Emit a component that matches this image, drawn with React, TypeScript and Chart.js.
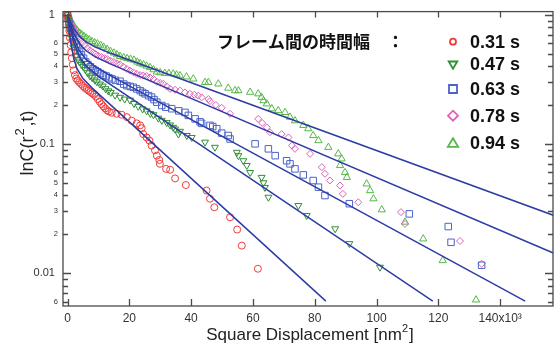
import React, { useEffect, useRef } from 'react';
import { Chart, registerables } from 'chart.js';

Chart.register(...registerables);

// ---- data (x in 10^3 nm^2, y = lnC value) ----
const seriesLabels = ['0.31 s', '0.47 s', '0.63 s', '0.78 s', '0.94 s'];

const pts031: [number, number][] = [
  [0, 1.0], [0.2, 0.93], [0.4, 0.84], [0.6, 0.75], [0.8, 0.66], [1.0, 0.58], [1.2, 0.51], [1.4, 0.46],
  [1.7, 0.41], [2.0, 0.37], [2.4, 0.34], [2.8, 0.32], [3.3, 0.31], [3.8, 0.3], [4.4, 0.29], [5.0, 0.28],
  [5.6, 0.272], [6.2, 0.265], [6.8, 0.258], [7.4, 0.252], [8.0, 0.246], [8.6, 0.24], [9.2, 0.232],
  [9.8, 0.222], [10.4, 0.212], [11.0, 0.203], [11.6, 0.195], [12.2, 0.188], [12.8, 0.182], [13.4, 0.178],
  [14.3, 0.174], [15.9, 0.171], [17.5, 0.168], [19.2, 0.161], [20.8, 0.151], [22.4, 0.144], [23.5, 0.139],
  [24.0, 0.132], [24.5, 0.119], [25.6, 0.112], [26.5, 0.106], [27.2, 0.097], [28.3, 0.089], [28.9, 0.081],
  [29.7, 0.075], [29.9, 0.07], [31.9, 0.064], [33.2, 0.063], [34.8, 0.054], [38.3, 0.048], [45.0, 0.0435],
  [46.1, 0.0376], [47.5, 0.0323], [52.6, 0.027], [54.9, 0.0217], [56.4, 0.0163], [61.6, 0.0108],
];

const pts047: [number, number][] = [
  [0, 1.0], [0.3, 0.9], [0.6, 0.81], [0.9, 0.73], [1.2, 0.67], [1.5, 0.62], [1.9, 0.56], [2.3, 0.52],
  [2.8, 0.48], [3.3, 0.45], [3.9, 0.43], [4.5, 0.41], [5.1, 0.395], [5.8, 0.375], [6.5, 0.355], [7.3, 0.335],
  [8.0, 0.325], [8.8, 0.312], [9.5, 0.302], [10.5, 0.29], [11.4, 0.28], [12.3, 0.267], [13.2, 0.257],
  [14.0, 0.25], [15.4, 0.238], [17.0, 0.229], [18.5, 0.222], [20.2, 0.218], [21.5, 0.205], [22.9, 0.195],
  [24.3, 0.186], [25.6, 0.18], [26.8, 0.172], [27.8, 0.168], [29.4, 0.158], [30.5, 0.152], [32.1, 0.146],
  [33.2, 0.14], [34.2, 0.134], [34.8, 0.13], [35.9, 0.119], [36.4, 0.125], [38.6, 0.116], [40.2, 0.112],
  [44.5, 0.103], [47.7, 0.094], [54.8, 0.086], [55.3, 0.081], [56.9, 0.074], [58.0, 0.068], [59.1, 0.06],
  [62.8, 0.055], [63.4, 0.05], [63.9, 0.046], [65.0, 0.0386], [74.7, 0.0333], [77.4, 0.0279],
  [86.6, 0.022], [91.2, 0.0169], [101.1, 0.0111],
];

const pts063: [number, number][] = [
  [0, 1.0], [0.3, 0.93], [0.6, 0.86], [1.0, 0.78], [1.4, 0.72], [1.8, 0.67], [2.3, 0.62], [2.8, 0.59],
  [3.3, 0.56], [3.9, 0.52], [4.5, 0.49], [5.2, 0.46], [5.9, 0.43], [6.6, 0.41], [7.4, 0.395], [8.2, 0.38],
  [9.0, 0.37], [9.8, 0.36], [10.7, 0.35], [11.6, 0.34], [12.5, 0.335], [13.4, 0.325], [14.4, 0.318],
  [15.5, 0.31], [17.0, 0.305], [18.2, 0.29], [19.2, 0.282], [20.3, 0.278], [21.3, 0.274], [22.4, 0.266],
  [23.5, 0.258], [24.3, 0.25], [25.1, 0.244], [26.2, 0.236], [27.2, 0.23], [28.0, 0.22], [28.9, 0.21],
  [30.5, 0.198], [31.8, 0.192], [33.7, 0.187], [36.0, 0.18], [38.0, 0.175], [39.1, 0.166], [41.3, 0.156],
  [42.9, 0.148], [43.4, 0.144], [46.1, 0.139], [47.0, 0.136], [48.3, 0.131], [49.9, 0.121], [52.0, 0.116],
  [52.6, 0.109], [60.7, 0.1], [65.0, 0.0915], [67.2, 0.081], [70.9, 0.074], [72.0, 0.07], [73.6, 0.064],
  [76.3, 0.0575], [79.5, 0.052], [81.2, 0.0462], [83.3, 0.0398], [91.2, 0.0344], [110.6, 0.0287],
  [123.2, 0.0229], [124.1, 0.0173], [134.0, 0.0115],
];

const pts078: [number, number][] = [
  [0, 1.0], [0.4, 0.95], [0.8, 0.89], [1.2, 0.84], [1.6, 0.8], [2.0, 0.77], [2.5, 0.74], [3.0, 0.71],
  [3.6, 0.67], [4.2, 0.64], [4.9, 0.61], [5.6, 0.58], [6.4, 0.55], [7.3, 0.53], [8.2, 0.51], [9.1, 0.495],
  [10.0, 0.48], [11.0, 0.47], [12.0, 0.46], [12.9, 0.452], [13.9, 0.44], [15.0, 0.43], [16.0, 0.42],
  [17.0, 0.412], [18.1, 0.395], [19.2, 0.38], [20.2, 0.369], [21.3, 0.358], [22.4, 0.348], [23.5, 0.34],
  [24.5, 0.338], [25.6, 0.335], [26.7, 0.326], [27.8, 0.318], [28.9, 0.302], [30.0, 0.296], [31.0, 0.291],
  [32.1, 0.278], [33.2, 0.266], [34.8, 0.262], [36.4, 0.258], [38.0, 0.25], [39.6, 0.244], [41.0, 0.24],
  [42.3, 0.236], [43.4, 0.229], [45.6, 0.222], [46.1, 0.214], [48.0, 0.2], [49.9, 0.19], [52.6, 0.171],
  [61.7, 0.156], [63.0, 0.145], [64.5, 0.134], [65.5, 0.123], [69.3, 0.119], [71.5, 0.112], [72.6, 0.097],
  [73.6, 0.0915], [78.5, 0.0837], [82.3, 0.066], [83.3, 0.0586], [84.9, 0.052], [88.2, 0.0476],
  [89.1, 0.041], [94.1, 0.0353], [107.9, 0.0296], [109.2, 0.024], [127.0, 0.0177], [134.0, 0.0118],
];

const pts094: [number, number][] = [
  [0, 1.0], [0.5, 0.95], [1.0, 0.9], [1.5, 0.86], [2.0, 0.82], [2.6, 0.78], [3.2, 0.75], [3.9, 0.72],
  [4.6, 0.7], [5.3, 0.68], [6.1, 0.66], [7.0, 0.64], [7.9, 0.62], [8.8, 0.605], [9.7, 0.595], [10.7, 0.58],
  [11.7, 0.56], [12.8, 0.54], [13.9, 0.52], [15.0, 0.505], [16.0, 0.49], [17.0, 0.475], [18.2, 0.465],
  [19.3, 0.458], [20.4, 0.452], [21.5, 0.445], [22.6, 0.43], [23.5, 0.418], [24.6, 0.41], [25.6, 0.4],
  [26.7, 0.39], [27.8, 0.375], [28.9, 0.36], [30.0, 0.355], [31.5, 0.352], [32.8, 0.35], [34.2, 0.348],
  [35.3, 0.342], [36.4, 0.337], [38.5, 0.33], [40.7, 0.318], [44.5, 0.299], [45.6, 0.299], [48.8, 0.291],
  [52.0, 0.27], [54.2, 0.258], [55.3, 0.258], [59.1, 0.251], [61.7, 0.244], [62.8, 0.229], [63.4, 0.216],
  [64.5, 0.204], [66.1, 0.187], [68.2, 0.181], [70.4, 0.175], [72.0, 0.161], [73.6, 0.151], [76.3, 0.139],
  [77.9, 0.131], [79.5, 0.116], [81.2, 0.106], [84.4, 0.094], [87.6, 0.0837], [88.2, 0.068], [88.7, 0.0766],
  [89.8, 0.06], [90.4, 0.055], [96.8, 0.049], [97.9, 0.0435], [99.0, 0.0376], [101.7, 0.0309],
  [109.2, 0.0248], [115.1, 0.0184], [121.4, 0.0125], [132.2, 0.0062],
];

// fitted curves
const fit031: [number, number][] = [[0, 1.0], [0.5, 0.769], [1, 0.621], [2, 0.459], [3, 0.385], [5, 0.32], [8, 0.27], [83.6, 0.00607]];
const fit047: [number, number][] = [[0, 1.0], [1, 0.754], [2, 0.61], [4, 0.465], [6, 0.401], [10, 0.333], [118.2, 0.00607]];
const fit063: [number, number][] = [[0, 1.0], [1, 0.791], [2, 0.659], [4, 0.518], [6, 0.45], [9, 0.395], [13, 0.346], [148.1, 0.00607]];
const fit078: [number, number][] = [[0, 1.0], [1, 0.8295], [2, 0.717], [4, 0.59], [6, 0.525], [9, 0.471], [14, 0.414], [157.8, 0.01409]];
const fit094: [number, number][] = [[0, 1.0], [1, 0.872], [2, 0.783], [4, 0.675], [6, 0.615], [9, 0.561], [14, 0.5016], [157.8, 0.0277]];

const xTickValues = [0, 20, 40, 60, 80, 100, 120, 140];
const xTickLabels = ['0', '20', '40', '60', '80', '100', '120', '140x10³'];
const yTickValues = [
  0.006, 0.007, 0.008, 0.009, 0.01, 0.02, 0.03, 0.04, 0.05, 0.06, 0.07, 0.08, 0.09,
  0.1, 0.2, 0.3, 0.4, 0.5, 0.6, 0.7, 0.8, 0.9, 1,
];
const yTickLabels = [
  '6', '', '', '', '0.01', '2', '3', '4', '5', '6', '', '', '',
  '0.1', '2', '3', '4', '5', '6', '', '', '', '1',
];
const yMajorValues = [0.01, 0.1, 1];

const legendTitle = 'フレーム間の時間幅　：';
const xTitleParts = ['Square Displacement [nm', '2', ']'];
const yTitleParts = ['lnC(r', '2', ',t)'];

// ---- styles ----
const seriesColors = ['#f23a3a', '#2f8f35', '#4a64c8', '#de62b8', '#56b848'];
const seriesShapes = ['circle', 'triangle', 'rect', 'rectRot', 'triangle'];
const seriesRotation = [0, 180, 0, 0, 0];
const seriesRadius = [3.5, 4, 4.6, 3.5, 4.2];
const fitColor = '#2e3da6';

const frameAndLegend = {
  id: 'frameAndLegend',
  afterDraw(chart: any) {
    const { ctx, chartArea } = chart;
    const { left, right, top, bottom } = chartArea;
    const xs = chart.scales.x;
    const ys = chart.scales.y;
    ctx.save();
    // frame
    ctx.strokeStyle = '#4a4a4a';
    ctx.lineWidth = 1.3;
    ctx.strokeRect(left, top, right - left, bottom - top);
    // inward ticks
    ctx.lineWidth = 1.3;
    ctx.beginPath();
    xTickValues.forEach((v) => {
      const px = Math.round(xs.getPixelForValue(v)) + 0.5;
      ctx.moveTo(px, bottom);
      ctx.lineTo(px, bottom - 7);
      ctx.moveTo(px, top);
      ctx.lineTo(px, top + 6);
    });
    yTickValues.forEach((v) => {
      const py = Math.round(ys.getPixelForValue(v)) + 0.5;
      const len = yMajorValues.includes(v) ? 8 : 5;
      ctx.moveTo(left, py);
      ctx.lineTo(left + len, py);
      ctx.moveTo(right, py);
      ctx.lineTo(right - len, py);
    });
    ctx.stroke();

    // axis titles
    ctx.fillStyle = '#222';
    ctx.textBaseline = 'alphabetic';
    ctx.textAlign = 'left';
    {
      const mainFont = '17px "Liberation Sans", Arial, sans-serif';
      const supFont = '11px "Liberation Sans", Arial, sans-serif';
      ctx.font = mainFont;
      const w1 = ctx.measureText(xTitleParts[0]).width;
      const w3 = ctx.measureText(xTitleParts[2]).width;
      ctx.font = supFont;
      const w2 = ctx.measureText(xTitleParts[1]).width;
      const total = w1 + w2 + w3 + 1;
      let sx = (left + right) / 2 - total / 2 + 2;
      const by = 340;
      ctx.font = mainFont;
      ctx.fillText(xTitleParts[0], sx, by);
      sx += w1;
      ctx.font = supFont;
      ctx.fillText(xTitleParts[1], sx, by - 8);
      sx += w2 + 1;
      ctx.font = mainFont;
      ctx.fillText(xTitleParts[2], sx, by);
    }
    {
      const mainFont = '18px "Liberation Sans", Arial, sans-serif';
      const supFont = '13px "Liberation Sans", Arial, sans-serif';
      ctx.save();
      ctx.translate(33, 143);
      ctx.rotate(-Math.PI / 2);
      ctx.font = mainFont;
      const w1 = ctx.measureText(yTitleParts[0]).width;
      const w3 = ctx.measureText(yTitleParts[2]).width;
      ctx.font = supFont;
      const w2 = ctx.measureText(yTitleParts[1]).width;
      const total = w1 + w2 + w3 + 3;
      let sx = -total / 2;
      ctx.font = mainFont;
      ctx.fillText(yTitleParts[0], sx, 0);
      sx += w1 + 1;
      ctx.font = supFont;
      ctx.fillText(yTitleParts[1], sx, -9);
      sx += w2 + 2;
      ctx.font = mainFont;
      ctx.fillText(yTitleParts[2], sx, 0);
      ctx.restore();
    }

    // legend
    ctx.fillStyle = '#111';
    ctx.textBaseline = 'middle';
    ctx.font = 'bold 17px "Noto Sans CJK JP", sans-serif';
    ctx.fillText(legendTitle, 217, 42);
    const rows = [41.7, 64.5, 89, 115.7, 143.3];
    const mx = 453;
    seriesLabels.forEach((label, i) => {
      const cy = rows[i];
      ctx.strokeStyle = seriesColors[i];
      ctx.lineWidth = 1.8;
      ctx.beginPath();
      if (i === 0) {
        ctx.arc(mx, cy, 3, 0, Math.PI * 2);
      } else if (i === 1) {
        ctx.moveTo(mx - 4.3, cy - 3);
        ctx.lineTo(mx + 4.3, cy - 3);
        ctx.lineTo(mx, cy + 4.2);
        ctx.closePath();
      } else if (i === 2) {
        ctx.rect(mx - 4, cy - 4, 8, 8);
      } else if (i === 3) {
        ctx.moveTo(mx, cy - 5);
        ctx.lineTo(mx + 5, cy);
        ctx.lineTo(mx, cy + 5);
        ctx.lineTo(mx - 5, cy);
        ctx.closePath();
      } else {
        ctx.moveTo(mx, cy - 5);
        ctx.lineTo(mx + 5.2, cy + 3.6);
        ctx.lineTo(mx - 5.2, cy + 3.6);
        ctx.closePath();
      }
      ctx.stroke();
      ctx.fillStyle = '#111';
      ctx.font = 'bold 18px "Liberation Sans", Arial, sans-serif';
      ctx.fillText(label, 470, cy + 1);
    });
    ctx.restore();
  },
};

export default function App() {
  const canvasRef = useRef<HTMLCanvasElement | null>(null);

  useEffect(() => {
    const canvas = canvasRef.current;
    if (!canvas) return;
    const pointSets = [pts031, pts047, pts063, pts078, pts094];
    const fitSets = [fit031, fit047, fit063, fit078, fit094];
    const toXY = (arr: [number, number][]) => arr.map(([x, y]) => ({ x, y }));

    const fitDatasets = fitSets.map((f, i) => ({
      label: 'fit ' + seriesLabels[i],
      data: toXY(f),
      showLine: true,
      borderColor: fitColor,
      borderWidth: 1.5,
      pointRadius: 0,
      fill: false,
      tension: 0,
    }));
    const pointDatasets = pointSets.map((p, i) => ({
      label: seriesLabels[i],
      data: toXY(p),
      showLine: false,
      pointStyle: seriesShapes[i],
      pointRotation: seriesRotation[i],
      pointRadius: seriesRadius[i],
      pointBorderWidth: 1,
      pointBorderColor: seriesColors[i],
      pointBackgroundColor: 'rgba(255,255,255,0)',
      borderColor: seriesColors[i],
      backgroundColor: 'rgba(255,255,255,0)',
    }));

    const chart = new Chart(canvas, {
      type: 'scatter',
      data: { datasets: [...fitDatasets, ...pointDatasets] as any },
      options: {
        animation: false,
        responsive: false,
        devicePixelRatio: 1,
        layout: { padding: { left: 0, right: 6, top: 11, bottom: 0 } },
        plugins: { legend: { display: false }, tooltip: { enabled: false } },
        scales: {
          x: {
            type: 'linear',
            min: -1.46,
            max: 157.1,
            grid: { display: false, drawTicks: false },
            border: { display: false },
            afterBuildTicks: (scale: any) => {
              scale.ticks = xTickValues.map((v) => ({ value: v }));
            },
            afterFit: (scale: any) => {
              scale.height = 39;
            },
            ticks: {
              autoSkip: false,
              maxRotation: 0,
              padding: 5,
              color: '#333',
              font: { size: 12, family: '"Liberation Sans", Arial, sans-serif' },
              callback: (_v: any, i: number) => xTickLabels[i],
            },
          },
          y: {
            type: 'logarithmic',
            min: 0.00556,
            max: 1.055,
            grid: { display: false, drawTicks: false },
            border: { display: false },
            afterBuildTicks: (scale: any) => {
              scale.ticks = yTickValues.map((v) => ({ value: v }));
            },
            afterFit: (scale: any) => {
              scale.width = 63;
            },
            ticks: {
              autoSkip: false,
              padding: 5,
              color: '#333',
              font: (ctx: any) => {
                const v = yTickValues[ctx.index];
                return yMajorValues.includes(v)
                  ? { size: 11, family: '"Liberation Sans", Arial, sans-serif' }
                  : { size: 7.5, family: '"Liberation Sans", Arial, sans-serif' };
              },
              callback: (_v: any, i: number) => {
                const v = yTickValues[i];
                return yMajorValues.includes(v) ? yTickLabels[i] + ' ' : yTickLabels[i];
              },
            },
          },
        },
      },
      plugins: [frameAndLegend],
    });
    return () => chart.destroy();
  }, []);

  return (
    <div style={{ position: 'fixed', left: 0, top: 0, width: 559, height: 345, background: '#fff' }}>
      <canvas ref={canvasRef} width={559} height={345} style={{ display: 'block' }} />
    </div>
  );
}
